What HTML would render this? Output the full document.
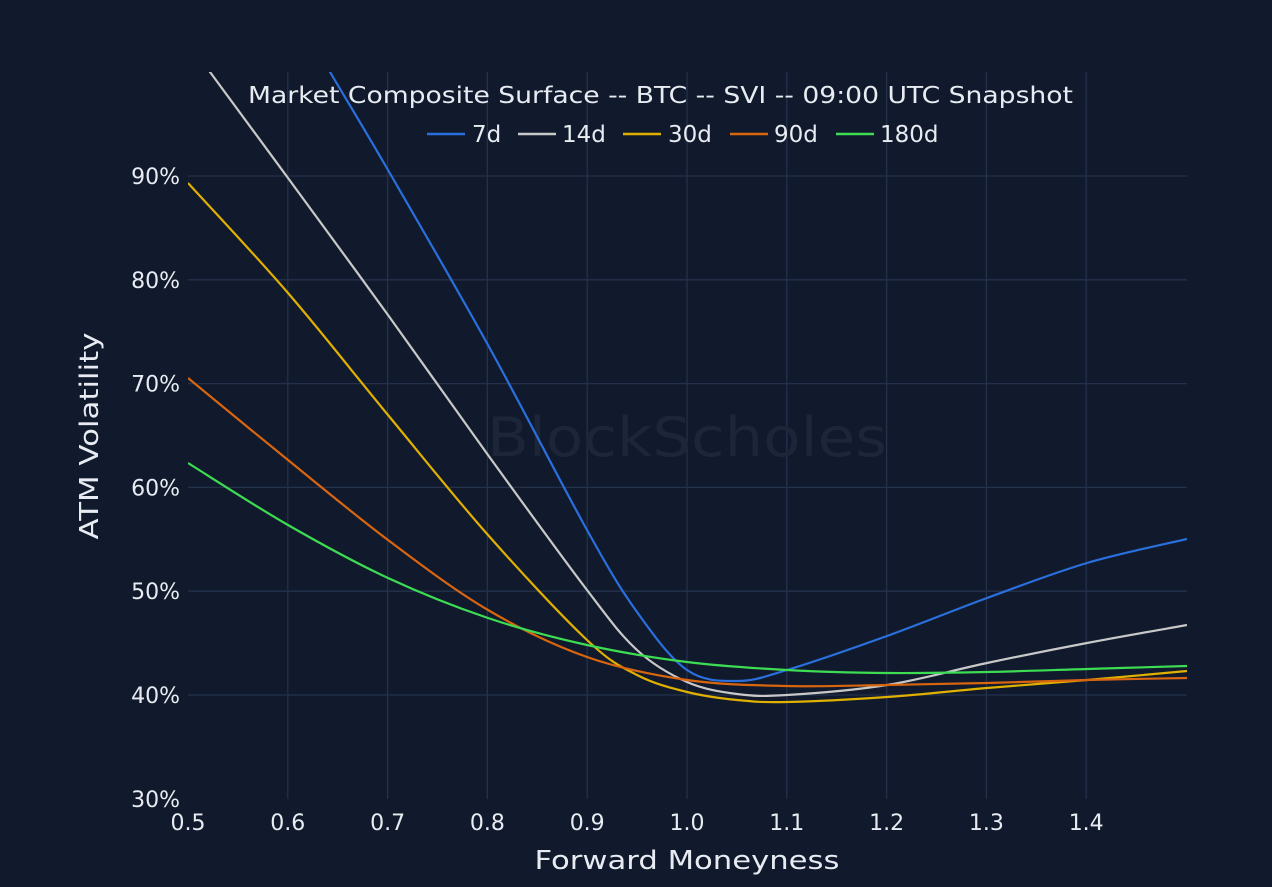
<!DOCTYPE html>
<html><head><meta charset="utf-8"><style>
html,body{margin:0;padding:0;background:#101a2c;}
svg{display:block;font-family:"DejaVu Sans","Liberation Sans",sans-serif;}
</style></head><body>
<svg id="s" width="1272" height="887" viewBox="0 0 1272 887">
<rect width="1272" height="887" fill="#101a2c"/>
<defs><clipPath id="c"><rect x="188" y="72" width="999" height="727"/></clipPath></defs>
<g id="grid" stroke="#24314b" stroke-width="1.3"></g>
<text x="687" y="456" text-anchor="middle" font-size="54" fill="#1c2638" textLength="400" lengthAdjust="spacingAndGlyphs">BlockScholes</text>
<g id="lines" clip-path="url(#c)" fill="none" stroke-width="2.2"></g>
<g id="ticks" fill="#e8ecf2" font-size="22"></g>
<text x="248" y="103" font-size="23" fill="#e8ecf2" textLength="825" lengthAdjust="spacingAndGlyphs">Market Composite Surface -- BTC -- SVI -- 09:00 UTC Snapshot</text>
<g font-size="23" fill="#e8ecf2">
<line x1="427" y1="134" x2="465" y2="134" stroke="#2a6fdc" stroke-width="2.5"/><text x="472" y="142">7d</text>
<line x1="518" y1="134" x2="556" y2="134" stroke="#c8c8c8" stroke-width="2.5"/><text x="562" y="142">14d</text>
<line x1="623" y1="134" x2="661" y2="134" stroke="#e0b000" stroke-width="2.5"/><text x="668" y="142">30d</text>
<line x1="730" y1="134" x2="768" y2="134" stroke="#d9650f" stroke-width="2.5"/><text x="774" y="142">90d</text>
<line x1="836" y1="134" x2="874" y2="134" stroke="#3ddc52" stroke-width="2.5"/><text x="880" y="142">180d</text>
</g>
<text transform="translate(98,436) rotate(-90)" text-anchor="middle" font-size="26" fill="#e8ecf2" textLength="207" lengthAdjust="spacingAndGlyphs">ATM Volatility</text>
<text x="687" y="869" text-anchor="middle" font-size="26" fill="#e8ecf2" textLength="305" lengthAdjust="spacingAndGlyphs">Forward Moneyness</text>
</svg>
<script>
var NS="http://www.w3.org/2000/svg";
function el(p,t,a,txt){var e=document.createElementNS(NS,t);for(var k in a)e.setAttribute(k,a[k]);if(txt)e.textContent=txt;p.appendChild(e);return e;}
var g=document.getElementById('grid'),tk=document.getElementById('ticks');
for(var i=0;i<10;i++){var x=188+i*99.8;if(i>0)el(g,'line',{x1:x,y1:72,x2:x,y2:799});
 el(tk,'text',{x:x,y:830,'text-anchor':'middle'},(0.5+i*0.1).toFixed(1));}
for(var v=30;v<=90;v+=10){var y=695-(v-40)*10.38;if(v>30)el(g,'line',{x1:188,y1:y,x2:1187,y2:y});
 el(tk,'text',{x:180,y:y+8,'text-anchor':'end'},v+'%');}
var S={
"#2a6fdc":[[300,20],[330,72],[388,170],[488,345],[587,530],[637,612],[687,670],[737,681],[787,670],[887,636],[987,598],[1087,563],[1187,539]],
"#c8c8c8":[[180,30],[210,72],[288,178],[388,315],[488,455],[587,590],[637,650],[687,682],[737,694],[787,695],[887,685],[987,663],[1087,643],[1187,625]],
"#e0b000":[[188,183],[288,293],[388,415],[488,535],[587,640],[637,675],[687,692],[737,700],[787,702],[887,697],[987,688],[1087,680],[1187,671]],
"#d9650f":[[188,378],[288,460],[388,540],[488,610],[587,657],[687,680],[787,686],[887,685],[987,683],[1087,680],[1187,678]],
"#3ddc52":[[188,463],[288,525],[388,578],[488,618],[587,645],[687,662],[787,670],[887,673],[987,672],[1087,669],[1187,666]]};
var L=document.getElementById('lines');
for(var c in S){var p=S[c],d="M"+p[0][0]+","+p[0][1];
 for(var i=0;i<p.length-1;i++){var p0=p[i-1]||p[i],p1=p[i],p2=p[i+1],p3=p[i+2]||p2;
  d+=" C"+(p1[0]+(p2[0]-p0[0])/6)+","+(p1[1]+(p2[1]-p0[1])/6)+" "+(p2[0]-(p3[0]-p1[0])/6)+","+(p2[1]-(p3[1]-p1[1])/6)+" "+p2[0]+","+p2[1];}
 el(L,'path',{d:d,stroke:c});}
</script>
</body></html>
